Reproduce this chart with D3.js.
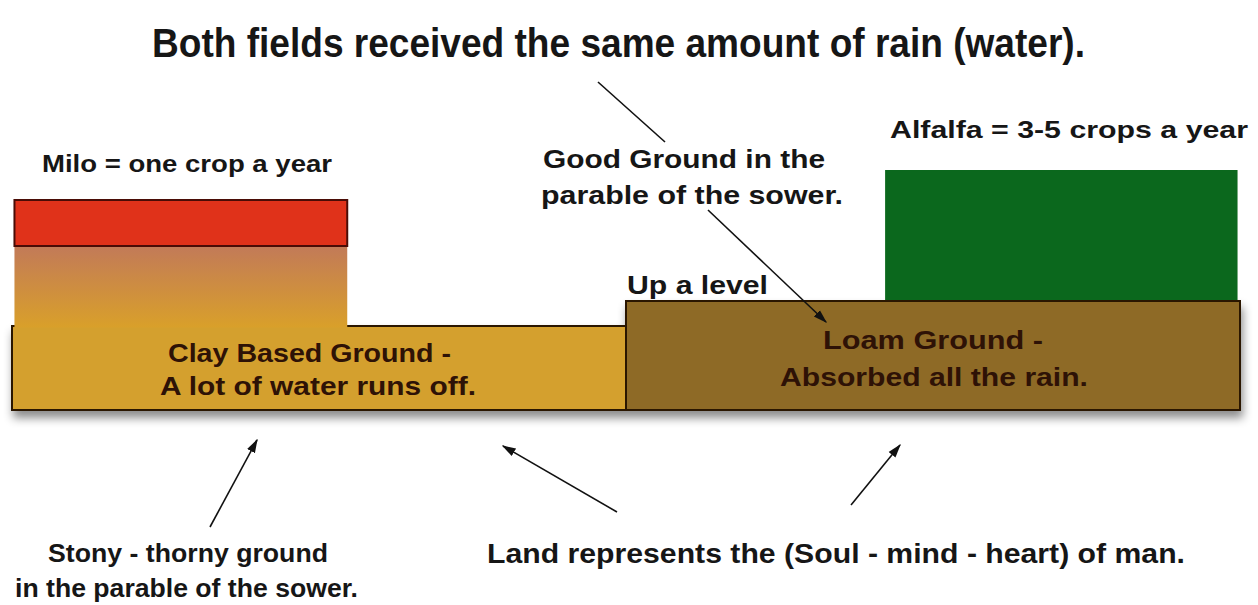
<!DOCTYPE html>
<html>
<head>
<meta charset="utf-8">
<script src="https://cdn.jsdelivr.net/npm/d3@7"></script>
<style>
  body { margin: 0; background: #fff; }
  text { font-family: "Liberation Sans", Arial, sans-serif; font-weight: bold; }
</style>
</head>
<body>
<svg id="chart" width="1258" height="605"></svg>
<script>
// field data (x in % of land width, heights in relative units)
const fields = ["Clay Based Ground", "Loam Ground"];
const fieldStart = [0, 50];
const fieldEnd = [50, 100];
const groundHeight = [84, 109];
const fieldColors = ["#d4a02e", "#8e6a28"];

const crops = ["Milo", "Alfalfa"];
const cropStart = [0.2, 71.1];
const cropEnd = [27.3, 99.8];
const cropTop = [210, 240];
const miloGrowth = 164; // where the red band starts

const groundLines = [
  ["Clay Based Ground -", "A lot of water runs off."],
  ["Loam Ground -", "Absorbed all the rain."]
];

const W = 1258, H = 605;
const svg = d3.select("#chart");

const x = d3.scaleLinear().domain([0, 100]).range([12, 1240]);
const y = d3.scaleLinear().domain([0, 240]).range([410, 170]);

const defs = svg.append("defs");
const grad = defs.append("linearGradient").attr("id", "miloGrad")
  .attr("x1", 0).attr("y1", 0).attr("x2", 0).attr("y2", 1);
grad.append("stop").attr("offset", "0%").attr("stop-color", "#c27a58");
grad.append("stop").attr("offset", "100%").attr("stop-color", "#d9a02a");

defs.append("marker").attr("id", "arr")
  .attr("viewBox", "0 0 10 10").attr("refX", 9).attr("refY", 5)
  .attr("markerWidth", 14).attr("markerHeight", 11).attr("orient", "auto")
  .attr("markerUnits", "userSpaceOnUse")
  .attr("preserveAspectRatio", "none")
  .append("path").attr("d", "M0,1 L10,5 L0,9 Z").attr("fill", "#111");

const shadow = defs.append("filter").attr("id", "shadow")
  .attr("x", "-5%").attr("y", "-20%").attr("width", "110%").attr("height", "150%");
shadow.append("feDropShadow").attr("dx", 2).attr("dy", 7)
  .attr("stdDeviation", 5).attr("flood-color", "#000").attr("flood-opacity", 0.45);

// helper for fitted text
function label(str, x0, base, width, size, color) {
  svg.append("text")
    .attr("x", x0).attr("y", base)
    .attr("font-size", size)
    .attr("fill", color || "#161616")
    .attr("textLength", width)
    .attr("lengthAdjust", "spacingAndGlyphs")
    .text(str);
}

// ground
const ground = svg.append("g").attr("filter", "url(#shadow)");
ground.selectAll("rect.field")
  .data(fields)
  .join("rect")
  .attr("class", "field")
  .attr("x", (d, i) => x(fieldStart[i]))
  .attr("width", (d, i) => x(fieldEnd[i]) - x(fieldStart[i]))
  .attr("y", (d, i) => y(groundHeight[i]))
  .attr("height", (d, i) => y(0) - y(groundHeight[i]))
  .attr("fill", (d, i) => fieldColors[i])
  .attr("stroke", "#2a1505").attr("stroke-width", 2);

// milo growth (gradient) sits on the clay
svg.append("rect")
  .attr("x", x(cropStart[0])).attr("width", x(cropEnd[0]) - x(cropStart[0]))
  .attr("y", y(miloGrowth)).attr("height", y(groundHeight[0]) - y(miloGrowth) + 1.5)
  .attr("fill", "url(#miloGrad)");
svg.append("rect")
  .attr("x", x(cropStart[0])).attr("width", x(cropEnd[0]) - x(cropStart[0]))
  .attr("y", y(cropTop[0])).attr("height", y(miloGrowth) - y(cropTop[0]))
  .attr("fill", "#e0321a").attr("stroke", "#4a0c06").attr("stroke-width", 2);

// alfalfa
svg.append("rect")
  .attr("x", x(cropStart[1])).attr("width", x(cropEnd[1]) - x(cropStart[1]))
  .attr("y", y(cropTop[1])).attr("height", y(groundHeight[1]) - y(cropTop[1]) - 1)
  .attr("fill", "#0b681d");

// texts
label("Both fields received the same amount of rain (water).", 152, 57, 933, 41);
label("Milo = one crop a year", 42, 172, 290, 24);
label("Good Ground in the", 543, 168, 282, 25);
label("parable of the sower.", 541, 204, 302, 25);
label("Alfalfa = 3-5 crops a year", 890, 138, 358, 24);
label("Up a level", 627, 294, 141, 26);

const gPos = [[[168, 362, 283], [160, 395, 316]], [[823, 349, 220], [780, 386, 308]]];
groundLines.forEach((lines, i) => {
  lines.forEach((s, j) => label(s, gPos[i][j][0], gPos[i][j][1], gPos[i][j][2], 25, "#2e1206"));
});

label("Stony - thorny ground", 48, 562, 280, 26);
label("in the parable of the sower.", 15, 597, 343, 26);
label("Land represents the (Soul - mind - heart) of man.", 487, 563, 698, 27);

// pointer lines
const pointers = [
  {x1: 598, y1: 82, x2: 665, y2: 142, head: false},
  {x1: 708, y1: 210, x2: 826, y2: 322, head: true},
  {x1: 210, y1: 527, x2: 257, y2: 440, head: true},
  {x1: 617, y1: 512, x2: 503, y2: 446, head: true},
  {x1: 851, y1: 505, x2: 900, y2: 445, head: true}
];
svg.selectAll("line.ptr")
  .data(pointers)
  .join("line")
  .attr("class", "ptr")
  .attr("x1", d => d.x1).attr("y1", d => d.y1)
  .attr("x2", d => d.x2).attr("y2", d => d.y2)
  .attr("stroke", "#111").attr("stroke-width", 1.6)
  .attr("marker-end", d => d.head ? "url(#arr)" : null);
</script>
</body>
</html>
